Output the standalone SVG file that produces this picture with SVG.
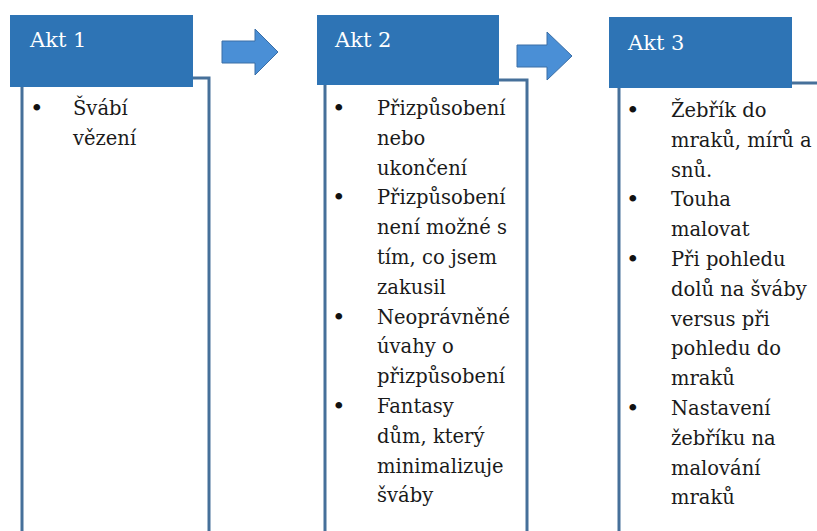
<svg xmlns="http://www.w3.org/2000/svg" width="817" height="531" viewBox="0 0 817 531">
<style>
.box{fill:#ffffff;stroke:#46709a;stroke-width:3}
.hdr{fill:#2e74b5}
.ht{font-family:'DejaVu Serif','Liberation Serif',serif;font-size:21px;fill:#ffffff}
.t{font-family:'DejaVu Serif','Liberation Serif',serif;font-size:19.5px;fill:#1a1a1a}
.b{font-family:'DejaVu Serif','Liberation Serif',serif;font-size:23px;fill:#111111}
.arr{fill:#4a8fd6;stroke:#3a6ea6;stroke-width:1}
</style>
<rect width="817" height="531" fill="#ffffff"/>
<g id="connectors">
<path class="arr" d="M222,41 H255 V29 L278,52 L255,75 V63 H222 Z"/>
<path class="arr" d="M517,45 H547 V32 L572,56 L547,80 V67 H517 Z"/>
</g>
<g id="akt1">
<rect class="box" x="22" y="78" width="187" height="470"/>
<rect class="hdr" x="10" y="15" width="183" height="72"/>
<text class="ht" x="30" y="47">Akt 1</text>
<text class="b" x="30" y="116">•</text>
<text class="t"><tspan x="73" y="115">Švábí</tspan><tspan x="73" y="145">vězení</tspan></text>
</g>
<g id="akt2">
<rect class="box" x="325" y="80" width="202" height="470"/>
<rect class="hdr" x="317" y="15" width="182" height="70"/>
<text class="ht" x="335" y="47">Akt 2</text>
<text class="b"><tspan x="332" y="116">•</tspan><tspan x="332" y="205.4">•</tspan><tspan x="332" y="324.6">•</tspan><tspan x="332" y="414">•</tspan></text>
<text class="t">
<tspan x="377" y="115">Přizpůsobení</tspan>
<tspan x="377" y="144.8">nebo</tspan>
<tspan x="377" y="174.6">ukončení</tspan>
<tspan x="377" y="204.4">Přizpůsobení</tspan>
<tspan x="377" y="234.2">není možné s</tspan>
<tspan x="377" y="264">tím, co jsem</tspan>
<tspan x="377" y="293.8">zakusil</tspan>
<tspan x="377" y="323.6">Neoprávněné</tspan>
<tspan x="377" y="353.4">úvahy o</tspan>
<tspan x="377" y="383.2">přizpůsobení</tspan>
<tspan x="377" y="413">Fantasy</tspan>
<tspan x="377" y="442.8">dům, který</tspan>
<tspan x="377" y="472.6">minimalizuje</tspan>
<tspan x="377" y="502.4">šváby</tspan>
</text>
</g>
<g id="akt3">
<rect class="box" x="619" y="83" width="210" height="470"/>
<rect class="hdr" x="609" y="17" width="183" height="71"/>
<text class="ht" x="628" y="50">Akt 3</text>
<text class="b"><tspan x="626" y="118">•</tspan><tspan x="626" y="207.4">•</tspan><tspan x="626" y="267">•</tspan><tspan x="626" y="416">•</tspan></text>
<text class="t">
<tspan x="671" y="117">Žebřík do</tspan>
<tspan x="671" y="146.8">mraků, mírů a</tspan>
<tspan x="671" y="176.6">snů.</tspan>
<tspan x="671" y="206.4">Touha</tspan>
<tspan x="671" y="236.2">malovat</tspan>
<tspan x="671" y="266">Při pohledu</tspan>
<tspan x="671" y="295.8">dolů na šváby</tspan>
<tspan x="671" y="325.6">versus při</tspan>
<tspan x="671" y="355.4">pohledu do</tspan>
<tspan x="671" y="385.2">mraků</tspan>
<tspan x="671" y="415">Nastavení</tspan>
<tspan x="671" y="444.8">žebříku na</tspan>
<tspan x="671" y="474.6">malování</tspan>
<tspan x="671" y="504.4">mraků</tspan>
</text>
</g>
</svg>
